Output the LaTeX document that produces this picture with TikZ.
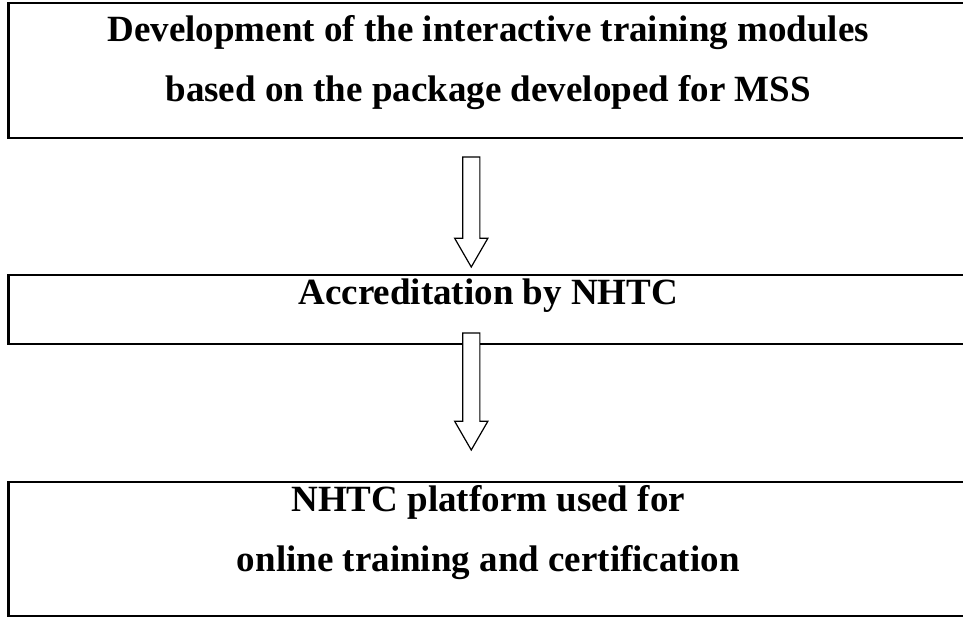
\documentclass[tikz,border=0pt]{standalone}
\usepackage{fontspec}
\setmainfont{Liberation Serif}
\usetikzlibrary{positioning,shapes.arrows}

\begin{document}
\begin{tikzpicture}[x=1pt, y=1pt, font=\fontsize{37}{60}\selectfont\bfseries]
\tikzstyle{box}=[draw, line width=2.8pt, anchor=north west, minimum width=959.5pt, outer sep=0pt, inner sep=0pt]
\tikzstyle{boxtext}=[align=center, inner sep=0pt, anchor=north]
\tikzstyle{downarrow}=[single arrow, draw, fill=white, line width=1.2pt, rotate=-90, anchor=tail, inner sep=0pt, inner ysep=8pt, minimum width=32pt, single arrow head extend=8pt, single arrow tip angle=60, outer sep=0pt]
\useasboundingbox (0,0) rectangle (963,-618);
\node[box, minimum height=135pt] (dev) at (8.5,-3) {};
\node[box, minimum height=69pt] (acc) at (8.5,-275) {};
\node[box, minimum height=134pt] (plat) at (8.5,-482) {};
\node[boxtext, below=12.4pt of dev.north] (devtext) {Development of the interactive training modules\\based on the package developed for MSS};
\node[boxtext, below=3.7pt of acc.north] (acctext) {Accreditation by NHTC};
\node[boxtext, below=3.4pt of plat.north] (plattext) {NHTC platform used for\\online training and certification};
\node[downarrow, minimum height=110pt] (arr1) at ([xshift=-17pt, yshift=-19pt]dev.south) {};
\node[downarrow, minimum height=117pt] (arr2) at ([xshift=-17pt, yshift=11pt]acc.south) {};
\end{tikzpicture}
\end{document}
